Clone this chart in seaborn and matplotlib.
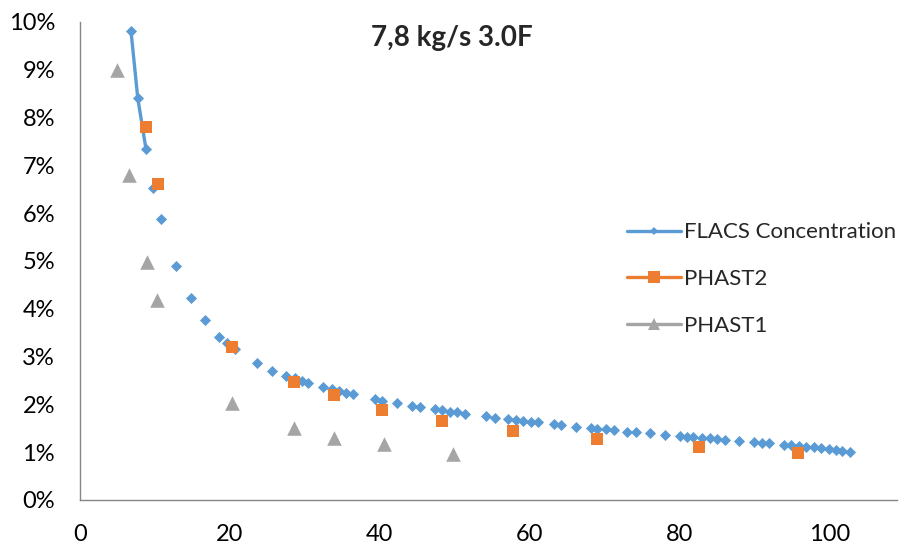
import matplotlib
matplotlib.use('Agg')
import matplotlib.pyplot as plt
from matplotlib.lines import Line2D
from matplotlib.ticker import PercentFormatter
import pandas as pd
import seaborn as sns

# FLACS concentration (distance, %)
flacs_x = [6.8, 7.7, 8.8, 9.75, 10.8, 12.8, 14.8, 16.7, 18.6, 19.6, 20.7, 23.6, 25.6, 27.5, 28.7,
           29.6, 30.4, 32.4, 33.6, 34.6, 35.5, 36.4, 39.4, 40.3, 42.3, 44.3, 45.3, 47.3, 48.3, 49.3,
           50.3, 51.3, 54.2, 55.3, 57.1, 58.2, 59.1, 60.2, 61.1, 63.2, 64.2, 66.1, 68.1, 69.0, 70.1,
           71.2, 73.0, 74.1, 76.0, 78.0, 80.0, 80.9, 81.8, 82.9, 84.0, 85.0, 86.0, 87.9, 89.9, 90.9,
           91.9, 93.9, 94.8, 95.9, 96.8, 97.9, 98.8, 99.9, 100.8, 101.7, 102.7]
flacs_y = [9.81, 8.41, 7.34, 6.53, 5.88, 4.90, 4.23, 3.77, 3.41, 3.28, 3.16, 2.87, 2.70, 2.59, 2.55,
           2.49, 2.45, 2.36, 2.32, 2.28, 2.24, 2.22, 2.11, 2.07, 2.03, 1.97, 1.95, 1.90, 1.88, 1.84,
           1.84, 1.80, 1.76, 1.72, 1.69, 1.67, 1.65, 1.63, 1.63, 1.59, 1.57, 1.53, 1.51, 1.49, 1.49,
           1.46, 1.42, 1.42, 1.40, 1.36, 1.34, 1.32, 1.32, 1.30, 1.30, 1.28, 1.26, 1.23, 1.21, 1.19,
           1.19, 1.15, 1.15, 1.13, 1.11, 1.11, 1.09, 1.07, 1.05, 1.03, 1.00]
n_connected = 3  # only the first points are joined by a line in the original

phast2_x = [8.8, 10.4, 20.3, 28.6, 33.9, 40.3, 48.3, 57.8, 69.0, 82.6, 95.7]
phast2_y = [7.80, 6.61, 3.20, 2.47, 2.20, 1.88, 1.65, 1.44, 1.28, 1.11, 0.98]

phast1_x = [4.9, 6.5, 8.9, 10.3, 20.3, 28.6, 33.9, 40.5, 49.7]
phast1_y = [9.0, 6.8, 4.98, 4.18, 2.03, 1.51, 1.30, 1.17, 0.96]

title = '7,8 kg/s 3.0F'
labels = ['FLACS Concentration', 'PHAST2', 'PHAST1']
blue, orange, grey = '#5B9BD5', '#ED7D31', '#A5A5A5'

sns.set_style('white')
plt.rcParams['font.family'] = ['Lato', 'DejaVu Sans']

flacs = pd.DataFrame({'x': flacs_x, 'y': flacs_y})
phast2 = pd.DataFrame({'x': phast2_x, 'y': phast2_y})
phast1 = pd.DataFrame({'x': phast1_x, 'y': phast1_y})

fig = plt.figure(figsize=(9.04, 5.47), dpi=100)
ax = fig.add_axes([0.0885, 0.086, 0.904, 0.874])

sns.lineplot(data=flacs.iloc[:n_connected], x='x', y='y', color=blue, lw=2.4, ax=ax, zorder=2)
sns.scatterplot(data=flacs, x='x', y='y', color=blue, marker='D', s=32, linewidth=0, ax=ax, zorder=3)
sns.scatterplot(data=phast2, x='x', y='y', color=orange, marker='s', s=85, linewidth=0, ax=ax, zorder=4)
sns.scatterplot(data=phast1, x='x', y='y', color=grey, marker='^', s=110, linewidth=0, ax=ax, zorder=4)

ax.set_xlim(0, 109)
ax.set_ylim(0, 10)
ax.set_xticks(range(0, 101, 20))
ax.set_yticks(range(0, 11))
ax.yaxis.set_major_formatter(PercentFormatter(decimals=0))
ax.set_xlabel('')
ax.set_ylabel('')
sns.despine(ax=ax)
for side in ['left', 'bottom']:
    ax.spines[side].set_color('#868686')
    ax.spines[side].set_linewidth(1.0)
ax.tick_params(axis='both', direction='out', length=5, width=1, color='#868686',
               labelsize=17, labelcolor='#000000')
ax.tick_params(axis='y', pad=13)
ax.tick_params(axis='x', pad=12)

fig.text(0.5, 0.93, title, ha='center', va='center', fontsize=20, fontweight='bold')

handles = [
    Line2D([], [], color=blue, lw=2.4, marker='D', markersize=4.5, markeredgewidth=0),
    Line2D([], [], color=orange, lw=2.4, marker='s', markersize=8, markeredgewidth=0),
    Line2D([], [], color=grey, lw=2.4, marker='^', markersize=9, markeredgewidth=0),
]
fig.legend(handles, labels, loc='center left', bbox_to_anchor=(0.671, 0.49), frameon=False,
           fontsize=16, labelspacing=1.2, handlelength=2.45, handletextpad=0.12)

fig.savefig('out.png', dpi=100)
